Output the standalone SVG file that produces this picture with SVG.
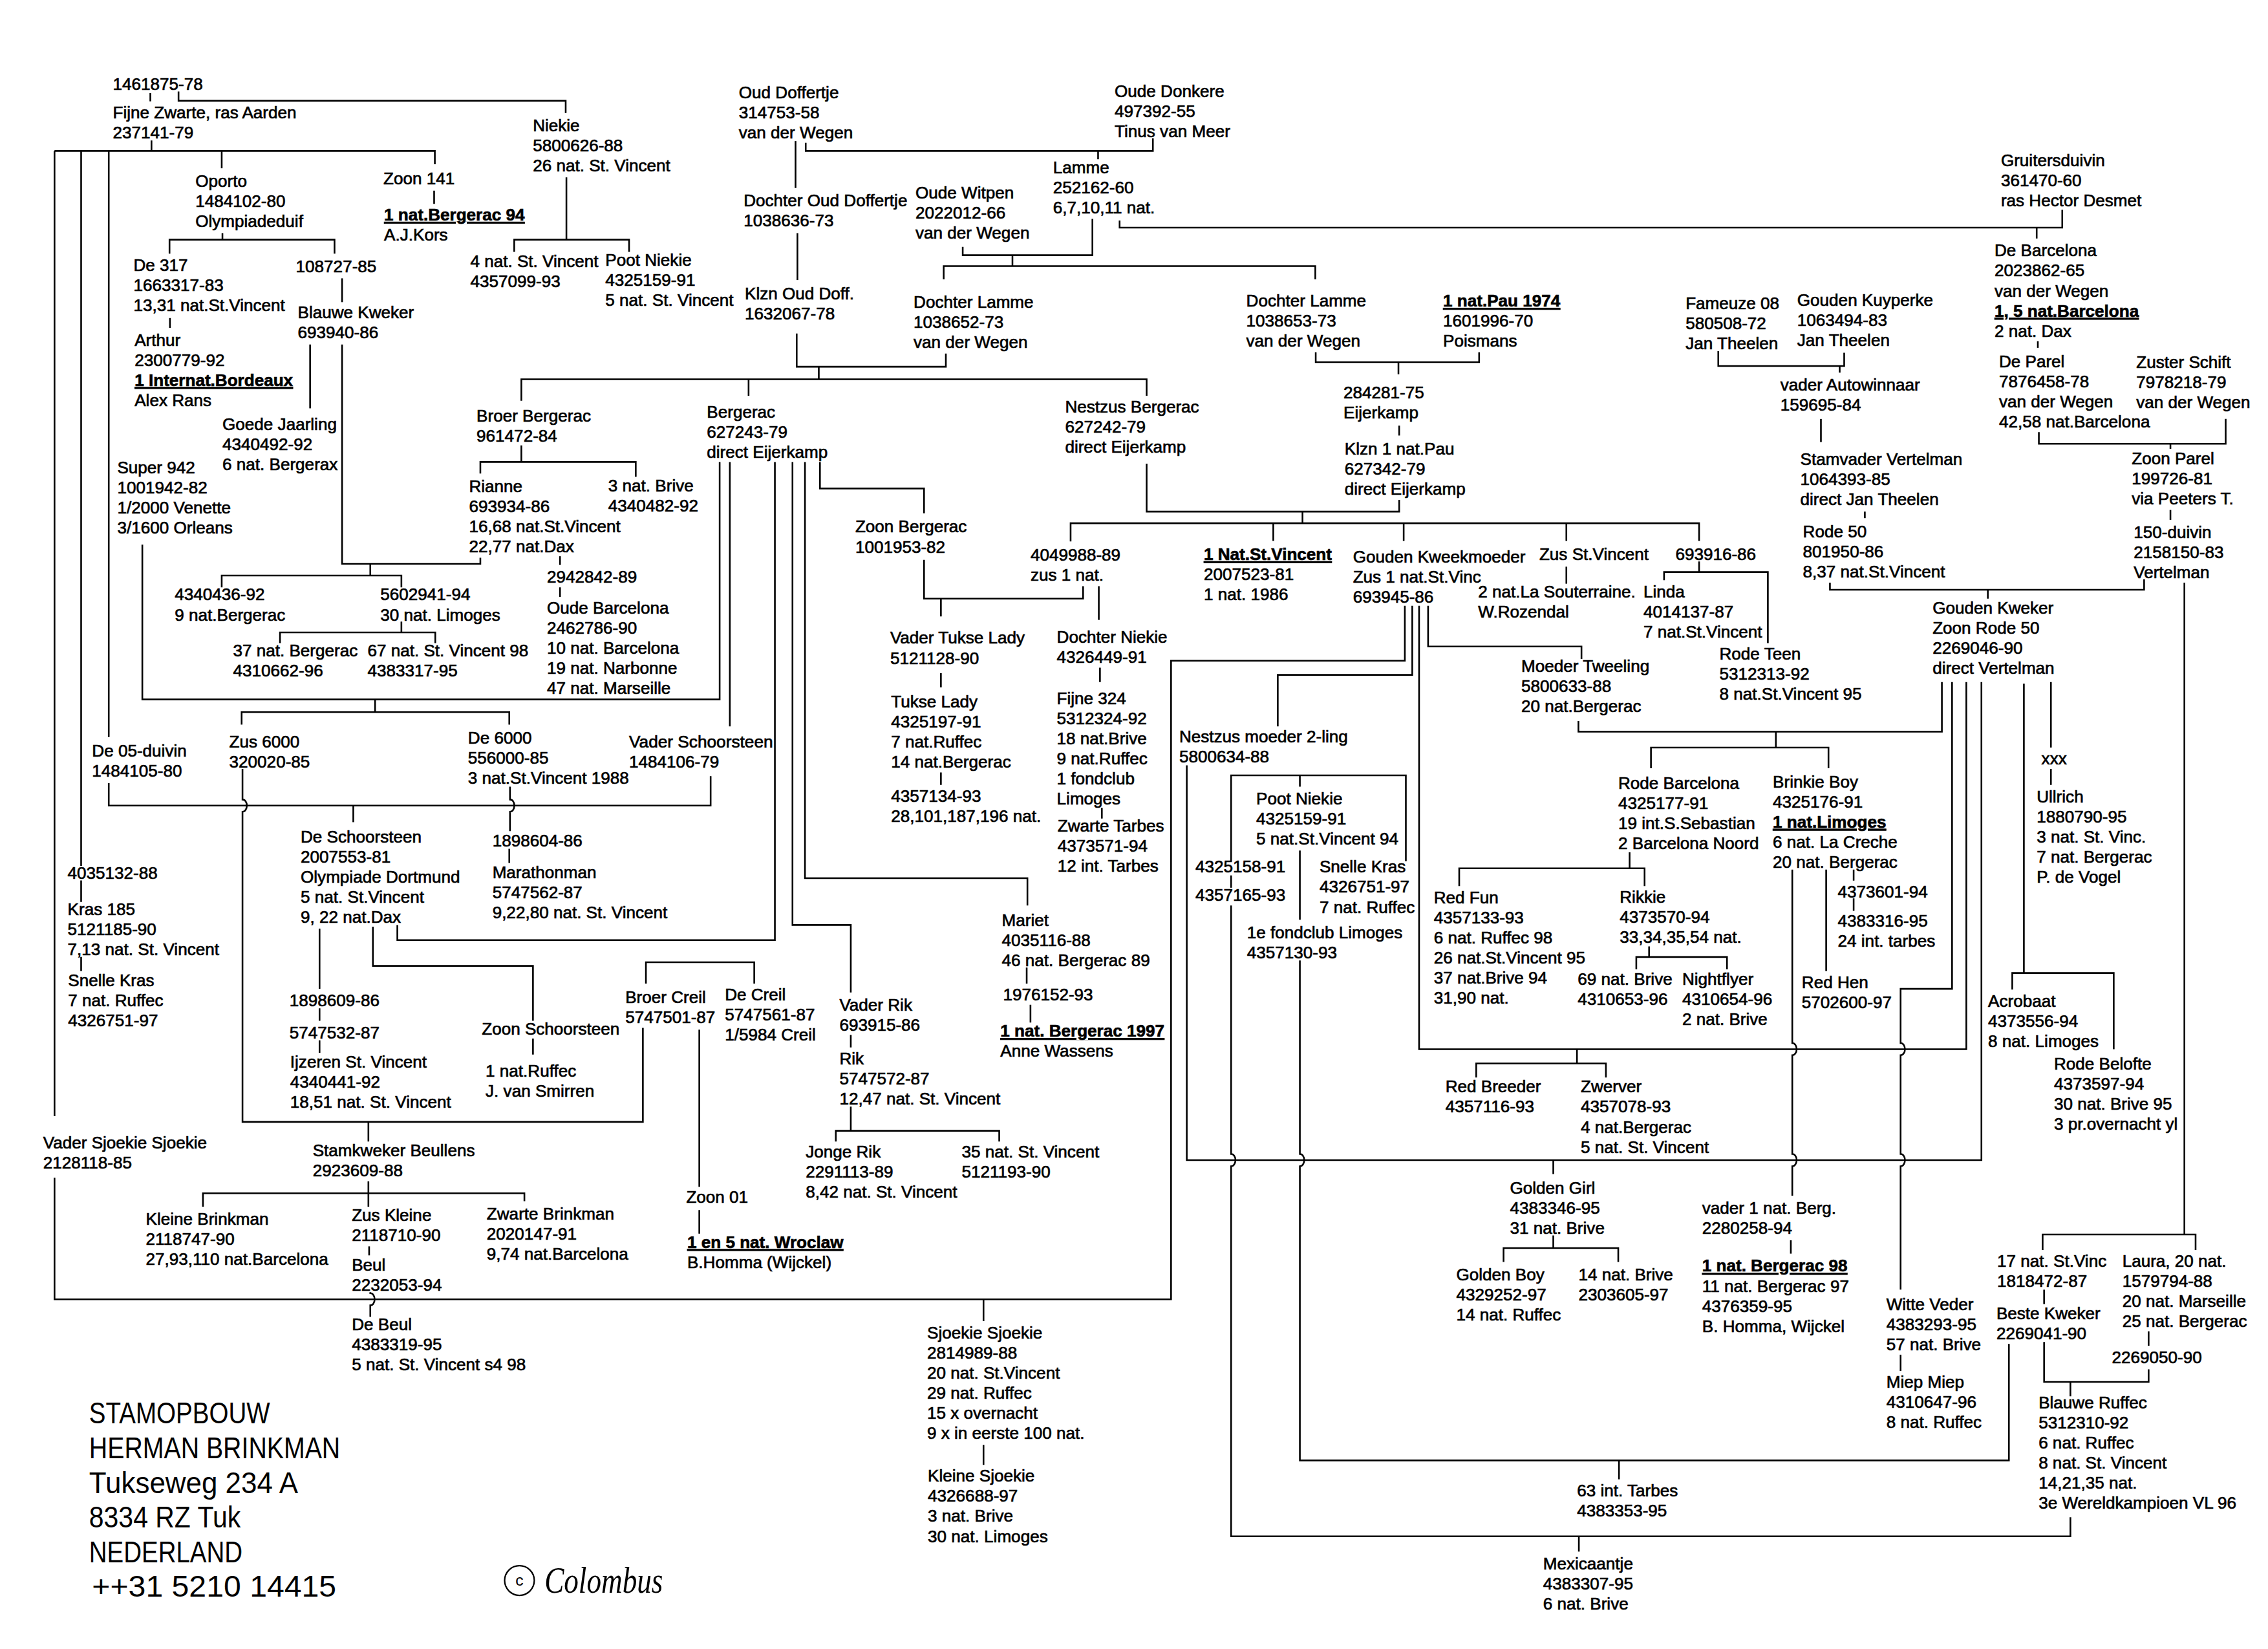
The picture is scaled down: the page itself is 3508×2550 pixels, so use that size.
<svg xmlns="http://www.w3.org/2000/svg" width="3508" height="2550" viewBox="0 0 3508 2550">
<style>
.t{font-family:"Liberation Sans",Arial,Helvetica,sans-serif;font-size:11.6px;fill:#000;stroke:#000;stroke-width:0.3px}
.b{font-weight:bold;text-decoration:underline}
.c path{fill:none;stroke:#000;stroke-width:1.15}
.ti{font-family:"Liberation Sans",Arial,sans-serif;font-size:20.5px;fill:#000}
.co{font-family:"Liberation Serif","Times New Roman",serif;font-style:italic;font-size:25px;fill:#000}
</style>
<rect width="3508" height="2550" fill="#fff"/>
<g transform="scale(2.2487)">
<g id="connectors" class="c">
<path d="M103.4,64 V69.7"/>
<path d="M122.8,62.9 V69.3 H389.1 V77.7"/>
<path d="M104.2,96.6 V103.8"/>
<path d="M37.5,103.8 H299.1 V112.9"/>
<path d="M152.5,103.8 V115.7"/>
<path d="M37.5,103.8 V767.6"/>
<path d="M55.8,103.8 V595.5"/>
<path d="M74.8,103.8 V506.8"/>
<path d="M153,160.3 V164.8 M116.6,174.4 V164.8 H230.1 V174.4"/>
<path d="M298.6,131.1 V140.2"/>
<path d="M389.6,122 V164.8 M353.7,173.2 V164.8 H432.7 V173.2"/>
<path d="M116.9,218.7 V225.5"/>
<path d="M235.3,191.4 V207.8"/>
<path d="M213.3,236.9 V280.8"/>
<path d="M235.3,236.9 V387.8 H330.4 V383.6"/>
<path d="M254.7,387.8 V395.8 M152.5,403.9 V395.8 H276.1 V403.9"/>
<path d="M385.2,382.5 V388.5"/>
<path d="M385.2,403.9 V410.5"/>
<path d="M276.1,427.5 V434.9 M192.6,442.2 V434.9 H299.4 V442.2"/>
<path d="M97.9,374.5 V481 H495 V317.7"/>
<path d="M258,481 V489.7 M166.2,498.3 V489.7 H350.3 V498.3"/>
<path d="M502,317.7 V499.5"/>
<path d="M547.2,97 V129.3"/>
<path d="M554.2,98.2 V103.8 H793 V95.2"/>
<path d="M755.3,103.8 V109.5"/>
<path d="M548.5,160.3 V192.6"/>
<path d="M662.2,169.8 V175.5 H751.4 V150.5"/>
<path d="M696.4,175.5 V183 M649.1,192.1 V183 H904.7 V192.1"/>
<path d="M770.1,151.6 V156.5 H1418.5 V144.3"/>
<path d="M1400.9,156.5 V164"/>
<path d="M548,229.4 V252.2 H650.6 V243.1"/>
<path d="M563.2,252.2 V260.8 M358.6,275.6 V260.8 H788.7 V272.2 M514.9,260.8 V272.2"/>
<path d="M358.6,306.3 V317.7 M330.4,325.6 V317.7 H437.3 V327.9"/>
<path d="M564,317.7 V335.9 H635.6 V353"/>
<path d="M533,317.7 V646.5 H273.3 V636.1"/>
<path d="M545.1,317.7 V636.1 H585.2 V682.5"/>
<path d="M553.7,317.7 V603.9 H706.7 V622.7"/>
<path d="M905,242.2 V249 H1017.4 V242.2 M961.9,249 V257.4"/>
<path d="M962.4,292.7 V299.5"/>
<path d="M788.7,318.8 V351.8 H962.4 V343.8"/>
<path d="M895.9,351.8 V359.8 M736.4,372.3 V359.8 H1168.7 V372 M875.8,359.8 V372 M965.5,359.8 V372 M1077.4,359.8 V372"/>
<path d="M1181.9,241.5 V251.7 H1268.5 V242.6 M1265.4,251.7 V256.3"/>
<path d="M1252.5,288.1 V304"/>
<path d="M1282.7,351.8 V356.3"/>
<path d="M1401.7,234.6 V239.2"/>
<path d="M1402.4,297.2 V305.2 H1530.9 V288.1 M1492.9,305.2 V308.6"/>
<path d="M1492.9,350.7 V357.5"/>
<path d="M635.6,385 V411.7 H745 V403.1 M647.2,411.7 V423.9"/>
<path d="M755.8,403.1 V426.3"/>
<path d="M647.2,462.9 V472.7 M647.2,531.2 V539.8"/>
<path d="M756.6,459.2 V469 M757.9,555.5 V562.9"/>
<path d="M74.8,538.5 V554 H488.8 V533.7"/>
<path d="M243,554 V565.4"/>
<path d="M166.8,528.8 V549.8 a3 4.2 0 0 1 0 8.4 V771.5 H442.2 V706.9"/>
<path d="M253.4,771.5 V785"/>
<path d="M350.8,541 V549.8 a3 4.2 0 0 1 0 8.4 V571.5"/>
<path d="M350.3,583.7 V593.4"/>
<path d="M55.8,605.5 V620.3 M55.8,658.1 V667.8"/>
<path d="M219.8,638.6 V680 M219.8,693.4 V702 M219.8,715.4 V724"/>
<path d="M256.5,637.3 V664.2 H366.6 V702 M366.6,714.2 V725.2"/>
<path d="M444.3,676.4 V661.7 H518.8 V676.4"/>
<path d="M481,708.1 V816.1 M481,832.2 V848.4"/>
<path d="M585.2,711.7 V720.3"/>
<path d="M706.2,665.4 V676.4 M708.8,691 V703.2"/>
<path d="M585.2,761 V777.6 M574.9,785 V777.6 H687.3 V785"/>
<path d="M37.5,809.9 V893.5 H805.5 V454.4 H966.3 V416.6"/>
<path d="M676.5,893.5 V908.5 M676.5,993.7 V1007.4"/>
<path d="M253.4,812.4 V829.8 M139.6,829.8 V820.6 H360.7 V826"/>
<path d="M253.9,857.1 V863.3"/>
<path d="M254.7,888.6 V889.3 a3 4.2 0 0 1 0 8.4 V905.5"/>
<path d="M971.4,416.6 V464.1 H878.9 V499.5"/>
<path d="M976.1,416.6 V721.5 H1352.5 V469"/>
<path d="M982.3,416.6 V444.6 H1087.8 V453.2"/>
<path d="M1085.7,495.8 V503.2 H1335.7 V469"/>
<path d="M1221.5,503.2 V514.1 M1135.6,528.3 V514.1 H1257.7 V528.3"/>
<path d="M1077.4,389.7 V401.4"/>
<path d="M1168.7,386.1 V393.4 M1144.6,399 V393.4 H1216 V442.2"/>
<path d="M1084.7,721.5 V731.3 M1015.4,741 V731.3 H1104.6 V741"/>
<path d="M816.3,526.3 V797.8 H1362.9 V469"/>
<path d="M1068.4,797.8 V807.4"/>
<path d="M1068.4,849.6 V858.3 M1034.2,867.8 V858.3 H1113.1 V867.8"/>
<path d="M846.8,592.2 V533.2 H967 V592.2 M894.1,533.2 V541"/>
<path d="M846.8,602 V610.5"/>
<path d="M846.8,622.7 V793.6 a3 4.2 0 0 1 0 8.4 V1056.5 H1424.1 V1043.4"/>
<path d="M1086,1056.5 V1067"/>
<path d="M894.1,584.9 V632.5"/>
<path d="M894.1,660.5 V793.6 a3 4.2 0 0 1 0 8.4 V1004.3 H1381.8 V924.2"/>
<path d="M1113.6,1004.3 V1017.3"/>
<path d="M1120.9,586.1 V597.1 M1003.7,609.3 V597.1 H1131.2 V609.3"/>
<path d="M1134.3,650.8 V658.1 M1125.5,666.6 V658.1 H1187.9 V666.6"/>
<path d="M1258.7,400.7 V405.6 H1474.8 V398.3 M1367.3,405.6 V411.7"/>
<path d="M1502.5,400.7 V848.9 M1405,859.6 V848.9 H1510.2 V859.6"/>
<path d="M1342.7,469 V680 H1307.3 V717.3 a3 4.2 0 0 1 0 8.4 V793.6 a3 4.2 0 0 1 0 8.4 V886.9"/>
<path d="M1307.3,931.6 V942.8"/>
<path d="M1232.8,598 V717.3 a3 4.2 0 0 1 0 8.4 V793.6 a3 4.2 0 0 1 0 8.4 V822.3"/>
<path d="M1231.8,852.9 V862.1"/>
<path d="M1256.1,598 V667.8"/>
<path d="M1275,598 V605.6 M1275,617.8 V626.4"/>
<path d="M1392.1,470.2 V669.1 M1384.1,680.5 V669.1 H1453.9 V721.5"/>
<path d="M1410.7,469 V514.1 M1410.7,528.8 V539.8"/>
<path d="M1406,886.9 V896.8"/>
<path d="M1406,922.9 V950.3 H1477.9 V941.6 M1477.9,915.5 V925.4 M1424.1,950.3 V960.2"/>
</g>

<g id="n-1461875"><text class="t" x="77.6" y="61.9">1461875-78</text></g>
<g id="n-fijne-zwarte"><text class="t" x="77.6" y="81.4">Fijne Zwarte, ras Aarden<tspan x="77.6" dy="13.8">237141-79</tspan></text></g>
<g id="n-niekie"><text class="t" x="366.5" y="90.3">Niekie<tspan x="366.5" dy="13.8">5800626-88</tspan><tspan x="366.5" dy="13.8">26 nat. St. Vincent</tspan></text></g>
<g id="n-oporto"><text class="t" x="134.4" y="128.5">Oporto<tspan x="134.4" dy="13.8">1484102-80</tspan><tspan x="134.4" dy="13.8">Olympiadeduif</tspan></text></g>
<g id="n-zoon141"><text class="t" x="263.7" y="126.7">Zoon 141</text></g>
<g id="n-bergerac94"><text class="t" x="264.2" y="151.7"><tspan class="b">1 nat.Bergerac 94</tspan><tspan x="264.2" dy="13.8">A.J.Kors</tspan></text></g>
<g id="n-de317"><text class="t" x="91.8" y="186.5">De 317<tspan x="91.8" dy="13.8">1663317-83</tspan><tspan x="91.8" dy="13.8">13,31 nat.St.Vincent</tspan></text></g>
<g id="n-108727"><text class="t" x="203.5" y="187.2">108727-85</text></g>
<g id="n-blauwe-kweker"><text class="t" x="204.8" y="218.8">Blauwe Kweker<tspan x="204.8" dy="13.8">693940-86</tspan></text></g>
<g id="n-arthur"><text class="t" x="92.6" y="237.7">Arthur<tspan x="92.6" dy="13.8">2300779-92</tspan><tspan x="92.6" dy="13.8" class="b">1 Internat.Bordeaux</tspan><tspan x="92.6" dy="13.8">Alex Rans</tspan></text></g>
<g id="n-goede-jaarling"><text class="t" x="153" y="295.7">Goede Jaarling<tspan x="153" dy="13.8">4340492-92</tspan><tspan x="153" dy="13.8">6 nat. Bergerax</tspan></text></g>
<g id="n-super942"><text class="t" x="80.7" y="325.3">Super 942<tspan x="80.7" dy="13.8">1001942-82</tspan><tspan x="80.7" dy="13.8">1/2000 Venette</tspan><tspan x="80.7" dy="13.8">3/1600 Orleans</tspan></text></g>
<g id="n-4natstv"><text class="t" x="323.5" y="183.6">4 nat. St. Vincent<tspan x="323.5" dy="13.8">4357099-93</tspan></text></g>
<g id="n-broer-bergerac"><text class="t" x="327.8" y="290">Broer Bergerac<tspan x="327.8" dy="13.8">961472-84</tspan></text></g>
<g id="n-rianne"><text class="t" x="322.6" y="338.3">Rianne<tspan x="322.6" dy="13.8">693934-86</tspan><tspan x="322.6" dy="13.8">16,68 nat.St.Vincent</tspan><tspan x="322.6" dy="13.8">22,77 nat.Dax</tspan></text></g>
<g id="n-oud-doffertje"><text class="t" x="508.2" y="67.6">Oud Doffertje<tspan x="508.2" dy="13.8">314753-58</tspan><tspan x="508.2" dy="13.8">van der Wegen</tspan></text></g>
<g id="n-oude-donkere"><text class="t" x="766.7" y="66.6">Oude Donkere<tspan x="766.7" dy="13.8">497392-55</tspan><tspan x="766.7" dy="13.8">Tinus van Meer</tspan></text></g>
<g id="n-dochter-oud-doffertje"><text class="t" x="511.5" y="141.7">Dochter Oud Doffertje<tspan x="511.5" dy="13.8">1038636-73</tspan></text></g>
<g id="n-oude-witpen"><text class="t" x="629.7" y="136.5">Oude Witpen<tspan x="629.7" dy="13.8">2022012-66</tspan><tspan x="629.7" dy="13.8">van der Wegen</tspan></text></g>
<g id="n-lamme"><text class="t" x="724.3" y="119">Lamme<tspan x="724.3" dy="13.8">252162-60</tspan><tspan x="724.3" dy="13.8">6,7,10,11 nat.</tspan></text></g>
<g id="n-poot-niekie-1"><text class="t" x="416.4" y="182.7">Poot Niekie<tspan x="416.4" dy="13.8">4325159-91</tspan><tspan x="416.4" dy="13.8">5 nat. St. Vincent</tspan></text></g>
<g id="n-klzn-oud-doff"><text class="t" x="512.3" y="205.9">Klzn Oud Doff.<tspan x="512.3" dy="13.8">1632067-78</tspan></text></g>
<g id="n-dochter-lamme-1"><text class="t" x="628.4" y="211.5">Dochter Lamme<tspan x="628.4" dy="13.8">1038652-73</tspan><tspan x="628.4" dy="13.8">van der Wegen</tspan></text></g>
<g id="n-bergerac"><text class="t" x="486.2" y="287.3">Bergerac<tspan x="486.2" dy="13.8">627243-79</tspan><tspan x="486.2" dy="13.8">direct Eijerkamp</tspan></text></g>
<g id="n-nestzus-bergerac"><text class="t" x="732.6" y="283.9">Nestzus Bergerac<tspan x="732.6" dy="13.8">627242-79</tspan><tspan x="732.6" dy="13.8">direct Eijerkamp</tspan></text></g>
<g id="n-3natbrive"><text class="t" x="418.4" y="337.8">3 nat. Brive<tspan x="418.4" dy="13.8">4340482-92</tspan></text></g>
<g id="n-zoon-bergerac"><text class="t" x="588.3" y="366.2">Zoon Bergerac<tspan x="588.3" dy="13.8">1001953-82</tspan></text></g>
<g id="n-4049988"><text class="t" x="708.8" y="385.6">4049988-89<tspan x="708.8" dy="13.8">zus 1 nat.</tspan></text></g>
<g id="n-dochter-lamme-2"><text class="t" x="857.2" y="210.9">Dochter Lamme<tspan x="857.2" dy="13.8">1038653-73</tspan><tspan x="857.2" dy="13.8">van der Wegen</tspan></text></g>
<g id="n-pau1974"><text class="t" x="992.6" y="210.9"><tspan class="b">1 nat.Pau 1974</tspan><tspan x="992.6" dy="13.8">1601996-70</tspan><tspan x="992.6" dy="13.8">Poismans</tspan></text></g>
<g id="n-284281"><text class="t" x="924.1" y="274.1">284281-75<tspan x="924.1" dy="13.8">Eijerkamp</tspan></text></g>
<g id="n-klzn-pau"><text class="t" x="924.9" y="312.8">Klzn 1 nat.Pau<tspan x="924.9" dy="13.8">627342-79</tspan><tspan x="924.9" dy="13.8">direct Eijerkamp</tspan></text></g>
<g id="n-1natstvincent"><text class="t" x="828" y="385.1"><tspan class="b">1 Nat.St.Vincent</tspan><tspan x="828" dy="13.8">2007523-81</tspan><tspan x="828" dy="13.8">1 nat. 1986</tspan></text></g>
<g id="n-gouden-kweekmoeder"><text class="t" x="930.6" y="386.7">Gouden Kweekmoeder<tspan x="930.6" dy="13.8">Zus 1 nat.St.Vinc</tspan><tspan x="930.6" dy="13.8">693945-86</tspan></text></g>
<g id="n-zus-stvincent"><text class="t" x="1058.8" y="385.1">Zus St.Vincent</text></g>
<g id="n-693916"><text class="t" x="1152.4" y="385.1">693916-86</text></g>
<g id="n-fameuze"><text class="t" x="1159.4" y="212.7">Fameuze 08<tspan x="1159.4" dy="13.8">580508-72</tspan><tspan x="1159.4" dy="13.8">Jan Theelen</tspan></text></g>
<g id="n-gruitersduivin"><text class="t" x="1376.3" y="114.4">Gruitersduivin<tspan x="1376.3" dy="13.8">361470-60</tspan><tspan x="1376.3" dy="13.8">ras Hector Desmet</tspan></text></g>
<g id="n-de-barcelona"><text class="t" x="1371.9" y="176.3">De Barcelona<tspan x="1371.9" dy="13.8">2023862-65</tspan><tspan x="1371.9" dy="13.8">van der Wegen</tspan><tspan x="1371.9" dy="13.8" class="b">1, 5 nat.Barcelona</tspan><tspan x="1371.9" dy="13.8">2 nat. Dax</tspan></text></g>
<g id="n-gouden-kuyperke"><text class="t" x="1236.2" y="210.4">Gouden Kuyperke<tspan x="1236.2" dy="13.8">1063494-83</tspan><tspan x="1236.2" dy="13.8">Jan Theelen</tspan></text></g>
<g id="n-vader-autowinnaar"><text class="t" x="1224.6" y="268.4">vader Autowinnaar<tspan x="1224.6" dy="13.8">159695-84</tspan></text></g>
<g id="n-stamvader-vertelman"><text class="t" x="1238.3" y="319.6">Stamvader Vertelman<tspan x="1238.3" dy="13.8">1064393-85</tspan><tspan x="1238.3" dy="13.8">direct Jan Theelen</tspan></text></g>
<g id="n-rode50"><text class="t" x="1240.1" y="369.6">Rode 50<tspan x="1240.1" dy="13.8">801950-86</tspan><tspan x="1240.1" dy="13.8">8,37 nat.St.Vincent</tspan></text></g>
<g id="n-de-parel"><text class="t" x="1375" y="252.5">De Parel<tspan x="1375" dy="13.8">7876458-78</tspan><tspan x="1375" dy="13.8">van der Wegen</tspan><tspan x="1375" dy="13.8">42,58 nat.Barcelona</tspan></text></g>
<g id="n-zuster-schift"><text class="t" x="1469.4" y="253.2">Zuster Schift<tspan x="1469.4" dy="13.8">7978218-79</tspan><tspan x="1469.4" dy="13.8">van der Wegen</tspan></text></g>
<g id="n-zoon-parel"><text class="t" x="1466.3" y="319.2">Zoon Parel<tspan x="1466.3" dy="13.8">199726-81</tspan><tspan x="1466.3" dy="13.8">via Peeters T.</tspan></text></g>
<g id="n-150-duivin"><text class="t" x="1467.6" y="370.1">150-duivin<tspan x="1467.6" dy="13.8">2158150-83</tspan><tspan x="1467.6" dy="13.8">Vertelman</tspan></text></g>
<g id="n-4340436"><text class="t" x="120.2" y="412.9">4340436-92<tspan x="120.2" dy="13.8">9 nat.Bergerac</tspan></text></g>
<g id="n-5602941"><text class="t" x="261.6" y="412.9">5602941-94<tspan x="261.6" dy="13.8">30 nat. Limoges</tspan></text></g>
<g id="n-37natbergerac"><text class="t" x="160.3" y="451.3">37 nat. Bergerac<tspan x="160.3" dy="13.8">4310662-96</tspan></text></g>
<g id="n-67natstv"><text class="t" x="252.8" y="451.3">67 nat. St. Vincent 98<tspan x="252.8" dy="13.8">4383317-95</tspan></text></g>
<g id="n-2942842"><text class="t" x="376.2" y="400.5">2942842-89</text></g>
<g id="n-oude-barcelona"><text class="t" x="376.2" y="422">Oude Barcelona<tspan x="376.2" dy="13.8">2462786-90</tspan><tspan x="376.2" dy="13.8">10 nat. Barcelona</tspan><tspan x="376.2" dy="13.8">19 nat. Narbonne</tspan><tspan x="376.2" dy="13.8">47 nat. Marseille</tspan></text></g>
<g id="n-de05duivin"><text class="t" x="63.3" y="520.3">De 05-duivin<tspan x="63.3" dy="13.8">1484105-80</tspan></text></g>
<g id="n-zus6000"><text class="t" x="157.7" y="513.9">Zus 6000<tspan x="157.7" dy="13.8">320020-85</tspan></text></g>
<g id="n-de6000"><text class="t" x="321.9" y="511.5">De 6000<tspan x="321.9" dy="13.8">556000-85</tspan><tspan x="321.9" dy="13.8">3 nat.St.Vincent 1988</tspan></text></g>
<g id="n-de-schoorsteen"><text class="t" x="206.8" y="579.3">De Schoorsteen<tspan x="206.8" dy="13.8">2007553-81</tspan><tspan x="206.8" dy="13.8">Olympiade Dortmund</tspan><tspan x="206.8" dy="13.8">5 nat. St.Vincent</tspan><tspan x="206.8" dy="13.8">9, 22 nat.Dax</tspan></text></g>
<g id="n-1898604"><text class="t" x="338.7" y="582.2">1898604-86</text></g>
<g id="n-marathonman"><text class="t" x="338.7" y="603.7">Marathonman<tspan x="338.7" dy="13.8">5747562-87</tspan><tspan x="338.7" dy="13.8">9,22,80 nat. St. Vincent</tspan></text></g>
<g id="n-4035132"><text class="t" x="46.5" y="604.5">4035132-88</text></g>
<g id="n-kras185"><text class="t" x="46.5" y="629.3">Kras 185<tspan x="46.5" dy="13.8">5121185-90</tspan><tspan x="46.5" dy="13.8">7,13 nat. St. Vincent</tspan></text></g>
<g id="n-snelle-kras-1"><text class="t" x="46.8" y="678.1">Snelle Kras<tspan x="46.8" dy="13.8">7 nat. Ruffec</tspan><tspan x="46.8" dy="13.8">4326751-97</tspan></text></g>
<g id="n-1898609"><text class="t" x="199.1" y="692">1898609-86</text></g>
<g id="n-5747532"><text class="t" x="199.1" y="714">5747532-87</text></g>
<g id="n-ijzeren"><text class="t" x="199.6" y="734.2">Ijzeren St. Vincent<tspan x="199.6" dy="13.8">4340441-92</tspan><tspan x="199.6" dy="13.8">18,51 nat. St. Vincent</tspan></text></g>
<g id="n-zoon-schoorsteen"><text class="t" x="331.4" y="711.6">Zoon Schoorsteen</text></g>
<g id="n-1natruffec"><text class="t" x="334" y="740.3">1 nat.Ruffec<tspan x="334" dy="13.8">J. van Smirren</tspan></text></g>
<g id="n-vader-tukse-lady"><text class="t" x="612.3" y="442.7">Vader Tukse Lady<tspan x="612.3" dy="13.8">5121128-90</tspan></text></g>
<g id="n-dochter-niekie"><text class="t" x="726.9" y="442.2">Dochter Niekie<tspan x="726.9" dy="13.8">4326449-91</tspan></text></g>
<g id="n-tukse-lady"><text class="t" x="612.9" y="486.6">Tukse Lady<tspan x="612.9" dy="13.8">4325197-91</tspan><tspan x="612.9" dy="13.8">7 nat.Ruffec</tspan><tspan x="612.9" dy="13.8">14 nat.Bergerac</tspan></text></g>
<g id="n-4357134"><text class="t" x="612.9" y="551.3">4357134-93<tspan x="612.9" dy="13.8">28,101,187,196 nat.</tspan></text></g>
<g id="n-fijne324"><text class="t" x="726.9" y="484.2">Fijne 324<tspan x="726.9" dy="13.8">5312324-92</tspan><tspan x="726.9" dy="13.8">18 nat.Brive</tspan><tspan x="726.9" dy="13.8">9 nat.Ruffec</tspan><tspan x="726.9" dy="13.8">1 fondclub</tspan><tspan x="726.9" dy="13.8">Limoges</tspan></text></g>
<g id="n-zwarte-tarbes"><text class="t" x="727.4" y="572">Zwarte Tarbes<tspan x="727.4" dy="13.8">4373571-94</tspan><tspan x="727.4" dy="13.8">12 int. Tarbes</tspan></text></g>
<g id="n-vader-schoorsteen"><text class="t" x="432.7" y="513.9"><tspan textLength="99" lengthAdjust="spacingAndGlyphs">Vader Schoorsteen</tspan><tspan x="432.7" dy="13.8">1484106-79</tspan></text></g>
<g id="n-broer-creil"><text class="t" x="430.1" y="689.9">Broer Creil<tspan x="430.1" dy="13.8">5747501-87</tspan></text></g>
<g id="n-de-creil"><text class="t" x="498.6" y="687.9">De Creil<tspan x="498.6" dy="13.8">5747561-87</tspan><tspan x="498.6" dy="13.8">1/5984 Creil</tspan></text></g>
<g id="n-vader-rik"><text class="t" x="577.4" y="695.2">Vader Rik<tspan x="577.4" dy="13.8">693915-86</tspan></text></g>
<g id="n-rik"><text class="t" x="577.4" y="731.8">Rik<tspan x="577.4" dy="13.8">5747572-87</tspan><tspan x="577.4" dy="13.8">12,47 nat. St. Vincent</tspan></text></g>
<g id="n-mariet"><text class="t" x="689.1" y="636.7">Mariet<tspan x="689.1" dy="13.8">4035116-88</tspan><tspan x="689.1" dy="13.8">46 nat. Bergerac 89</tspan></text></g>
<g id="n-1976152"><text class="t" x="689.9" y="687.9">1976152-93</text></g>
<g id="n-bergerac1997"><text class="t" x="688.1" y="713"><tspan class="b">1 nat. Bergerac 1997</tspan><tspan x="688.1" dy="13.8">Anne Wassens</tspan></text></g>
<g id="n-la-souterraine"><text class="t" x="1016.7" y="411">2 nat.La Souterraine.<tspan x="1016.7" dy="13.8">W.Rozendal</tspan></text></g>
<g id="n-linda"><text class="t" x="1130.4" y="411">Linda<tspan x="1130.4" dy="13.8">4014137-87</tspan><tspan x="1130.4" dy="13.8">7 nat.St.Vincent</tspan></text></g>
<g id="n-moeder-tweeling"><text class="t" x="1046.4" y="462.2">Moeder Tweeling<tspan x="1046.4" dy="13.8">5800633-88</tspan><tspan x="1046.4" dy="13.8">20 nat.Bergerac</tspan></text></g>
<g id="n-nestzus-moeder"><text class="t" x="811.1" y="510.5">Nestzus moeder 2-ling<tspan x="811.1" dy="13.8">5800634-88</tspan></text></g>
<g id="n-poot-niekie-2"><text class="t" x="864.1" y="553.2">Poot Niekie<tspan x="864.1" dy="13.8">4325159-91</tspan><tspan x="864.1" dy="13.8">5 nat.St.Vincent 94</tspan></text></g>
<g id="n-4325158"><text class="t" x="822.3" y="600.1">4325158-91</text></g>
<g id="n-4357165"><text class="t" x="822.3" y="619.6">4357165-93</text></g>
<g id="n-snelle-kras-2"><text class="t" x="907.6" y="600.1">Snelle Kras<tspan x="907.6" dy="13.8">4326751-97</tspan><tspan x="907.6" dy="13.8">7 nat. Ruffec</tspan></text></g>
<g id="n-1e-fondclub"><text class="t" x="857.7" y="645.2">1e fondclub Limoges<tspan x="857.7" dy="13.8">4357130-93</tspan></text></g>
<g id="n-rode-barcelona"><text class="t" x="1113.1" y="542.7">Rode Barcelona<tspan x="1113.1" dy="13.8">4325177-91</tspan><tspan x="1113.1" dy="13.8">19 int.S.Sebastian</tspan><tspan x="1113.1" dy="13.8">2 Barcelona Noord</tspan></text></g>
<g id="n-red-fun"><text class="t" x="986.2" y="621.3">Red Fun<tspan x="986.2" dy="13.8">4357133-93</tspan><tspan x="986.2" dy="13.8">6 nat. Ruffec 98</tspan><tspan x="986.2" dy="13.8">26 nat.St.Vincent 95</tspan><tspan x="986.2" dy="13.8">37 nat.Brive 94</tspan><tspan x="986.2" dy="13.8">31,90 nat.</tspan></text></g>
<g id="n-rikkie"><text class="t" x="1114.1" y="620.8">Rikkie<tspan x="1114.1" dy="13.8">4373570-94</tspan><tspan x="1114.1" dy="13.8">33,34,35,54 nat.</tspan></text></g>
<g id="n-69natbrive"><text class="t" x="1085.2" y="677.4">69 nat. Brive<tspan x="1085.2" dy="13.8">4310653-96</tspan></text></g>
<g id="n-nightflyer"><text class="t" x="1157.1" y="677.4">Nightflyer<tspan x="1157.1" dy="13.8">4310654-96</tspan><tspan x="1157.1" dy="13.8">2 nat. Brive</tspan></text></g>
<g id="n-red-breeder"><text class="t" x="994.2" y="751.3">Red Breeder<tspan x="994.2" dy="13.8">4357116-93</tspan></text></g>
<g id="n-zwerver"><text class="t" x="1087.3" y="751.3">Zwerver<tspan x="1087.3" dy="13.8">4357078-93</tspan><tspan x="1087.3" dy="13.8">4 nat.Bergerac</tspan><tspan x="1087.3" dy="13.8">5 nat. St. Vincent</tspan></text></g>
<g id="n-rode-teen"><text class="t" x="1182.7" y="453.7">Rode Teen<tspan x="1182.7" dy="13.8">5312313-92</tspan><tspan x="1182.7" dy="13.8">8 nat.St.Vincent 95</tspan></text></g>
<g id="n-gouden-kweker"><text class="t" x="1329.3" y="422">Gouden Kweker<tspan x="1329.3" dy="13.8">Zoon Rode 50</tspan><tspan x="1329.3" dy="13.8">2269046-90</tspan><tspan x="1329.3" dy="13.8">direct Vertelman</tspan></text></g>
<g id="n-brinkie-boy"><text class="t" x="1219.4" y="541.5">Brinkie Boy<tspan x="1219.4" dy="13.8">4325176-91</tspan><tspan x="1219.4" dy="13.8" class="b">1 nat.Limoges</tspan><tspan x="1219.4" dy="13.8">6 nat. La Creche</tspan><tspan x="1219.4" dy="13.8">20 nat. Bergerac</tspan></text></g>
<g id="n-xxx"><text class="t" x="1404.2" y="525.7">xxx</text></g>
<g id="n-ullrich"><text class="t" x="1400.9" y="551.8">Ullrich<tspan x="1400.9" dy="13.8">1880790-95</tspan><tspan x="1400.9" dy="13.8">3 nat. St. Vinc.</tspan><tspan x="1400.9" dy="13.8">7 nat. Bergerac</tspan><tspan x="1400.9" dy="13.8">P. de Vogel</tspan></text></g>
<g id="n-4373601"><text class="t" x="1264.1" y="617.1">4373601-94</text></g>
<g id="n-4383316"><text class="t" x="1264.1" y="637.2">4383316-95<tspan x="1264.1" dy="13.8">24 int. tarbes</tspan></text></g>
<g id="n-red-hen"><text class="t" x="1239.3" y="679.4">Red Hen<tspan x="1239.3" dy="13.8">5702600-97</tspan></text></g>
<g id="n-acrobaat"><text class="t" x="1367.5" y="692.3">Acrobaat<tspan x="1367.5" dy="13.8">4373556-94</tspan><tspan x="1367.5" dy="13.8">8 nat. Limoges</tspan></text></g>
<g id="n-rode-belofte"><text class="t" x="1412.8" y="735.5">Rode Belofte<tspan x="1412.8" dy="13.8">4373597-94</tspan><tspan x="1412.8" dy="13.8">30 nat. Brive 95</tspan><tspan x="1412.8" dy="13.8">3 pr.overnacht yl</tspan></text></g>
<g id="n-vader-sjoekie"><text class="t" x="29.7" y="789.7">Vader Sjoekie Sjoekie<tspan x="29.7" dy="13.8">2128118-85</tspan></text></g>
<g id="n-stamkweker-beullens"><text class="t" x="215.1" y="795">Stamkweker Beullens<tspan x="215.1" dy="13.8">2923609-88</tspan></text></g>
<g id="n-kleine-brinkman"><text class="t" x="100.3" y="842.2">Kleine Brinkman<tspan x="100.3" dy="13.8">2118747-90</tspan><tspan x="100.3" dy="13.8">27,93,110 nat.Barcelona</tspan></text></g>
<g id="n-zus-kleine"><text class="t" x="242" y="839.7">Zus Kleine<tspan x="242" dy="13.8">2118710-90</tspan></text></g>
<g id="n-beul"><text class="t" x="242" y="873.7">Beul<tspan x="242" dy="13.8">2232053-94</tspan></text></g>
<g id="n-zwarte-brinkman"><text class="t" x="334.8" y="838.9">Zwarte Brinkman<tspan x="334.8" dy="13.8">2020147-91</tspan><tspan x="334.8" dy="13.8">9,74 nat.Barcelona</tspan></text></g>
<g id="n-de-beul"><text class="t" x="242" y="914.7">De Beul<tspan x="242" dy="13.8">4383319-95</tspan><tspan x="242" dy="13.8">5 nat. St. Vincent s4 98</tspan></text></g>
<g id="n-jonge-rik"><text class="t" x="554.2" y="796.2">Jonge Rik<tspan x="554.2" dy="13.8">2291113-89</tspan><tspan x="554.2" dy="13.8">8,42 nat. St. Vincent</tspan></text></g>
<g id="n-35natstv"><text class="t" x="661.5" y="796.2">35 nat. St. Vincent<tspan x="661.5" dy="13.8">5121193-90</tspan></text></g>
<g id="n-zoon01"><text class="t" x="472" y="827.3">Zoon 01</text></g>
<g id="n-wroclaw"><text class="t" x="472.7" y="858.1"><tspan class="b">1 en 5 nat. Wroclaw</tspan><tspan x="472.7" dy="13.8">B.Homma (Wijckel)</tspan></text></g>
<g id="n-sjoekie-sjoekie"><text class="t" x="637.7" y="920.4">Sjoekie Sjoekie<tspan x="637.7" dy="13.8">2814989-88</tspan><tspan x="637.7" dy="13.8">20 nat. St.Vincent</tspan><tspan x="637.7" dy="13.8">29 nat. Ruffec</tspan><tspan x="637.7" dy="13.8">15 x overnacht</tspan><tspan x="637.7" dy="13.8">9 x in eerste 100 nat.</tspan></text></g>
<g id="n-kleine-sjoekie"><text class="t" x="638.2" y="1019">Kleine Sjoekie<tspan x="638.2" dy="13.8">4326688-97</tspan><tspan x="638.2" dy="13.8">3 nat. Brive</tspan><tspan x="638.2" dy="13.8">30 nat. Limoges</tspan></text></g>
<g id="n-golden-girl"><text class="t" x="1038.6" y="820.8">Golden Girl<tspan x="1038.6" dy="13.8">4383346-95</tspan><tspan x="1038.6" dy="13.8">31 nat. Brive</tspan></text></g>
<g id="n-golden-boy"><text class="t" x="1001.7" y="880.4">Golden Boy<tspan x="1001.7" dy="13.8">4329252-97</tspan><tspan x="1001.7" dy="13.8">14 nat. Ruffec</tspan></text></g>
<g id="n-14natbrive"><text class="t" x="1085.7" y="880.4">14 nat. Brive<tspan x="1085.7" dy="13.8">2303605-97</tspan></text></g>
<g id="n-63inttarbes"><text class="t" x="1084.7" y="1029">63 int. Tarbes<tspan x="1084.7" dy="13.8">4383353-95</tspan></text></g>
<g id="n-mexicaantje"><text class="t" x="1061.4" y="1079.2">Mexicaantje<tspan x="1061.4" dy="13.8">4383307-95</tspan><tspan x="1061.4" dy="13.8">6 nat. Brive</tspan></text></g>
<g id="n-vader-1nat-berg"><text class="t" x="1170.8" y="834.7">vader 1 nat. Berg.<tspan x="1170.8" dy="13.8">2280258-94</tspan></text></g>
<g id="n-bergerac98"><text class="t" x="1170.8" y="874.5"><tspan class="b">1 nat. Bergerac 98</tspan><tspan x="1170.8" dy="13.8">11 nat. Bergerac 97</tspan><tspan x="1170.8" dy="13.8">4376359-95</tspan><tspan x="1170.8" dy="13.8">B. Homma, Wijckel</tspan></text></g>
<g id="n-witte-veder"><text class="t" x="1297.5" y="901">Witte Veder<tspan x="1297.5" dy="13.8">4383293-95</tspan><tspan x="1297.5" dy="13.8">57 nat. Brive</tspan></text></g>
<g id="n-miep-miep"><text class="t" x="1297.5" y="954.5">Miep Miep<tspan x="1297.5" dy="13.8">4310647-96</tspan><tspan x="1297.5" dy="13.8">8 nat. Ruffec</tspan></text></g>
<g id="n-17natstvinc"><text class="t" x="1373.7" y="871.2">17 nat. St.Vinc<tspan x="1373.7" dy="13.8">1818472-87</tspan></text></g>
<g id="n-laura"><text class="t" x="1459.8" y="871.2">Laura, 20 nat.<tspan x="1459.8" dy="13.8">1579794-88</tspan><tspan x="1459.8" dy="13.8">20 nat. Marseille</tspan><tspan x="1459.8" dy="13.8">25 nat. Bergerac</tspan></text></g>
<g id="n-beste-kweker"><text class="t" x="1373.2" y="907.3">Beste Kweker<tspan x="1373.2" dy="13.8">2269041-90</tspan></text></g>
<g id="n-2269050"><text class="t" x="1452.6" y="937.6">2269050-90</text></g>
<g id="n-blauwe-ruffec"><text class="t" x="1402.2" y="968.6">Blauwe Ruffec<tspan x="1402.2" dy="13.8">5312310-92</tspan><tspan x="1402.2" dy="13.8">6 nat. Ruffec</tspan><tspan x="1402.2" dy="13.8">8 nat. St. Vincent</tspan><tspan x="1402.2" dy="13.8">14,21,35 nat.</tspan><tspan x="1402.2" dy="13.8">3e Wereldkampioen VL 96</tspan></text></g>

<g id="title">
<text class="ti" x="61.3" y="979" textLength="124.4" lengthAdjust="spacingAndGlyphs">STAMOPBOUW</text>
<text class="ti" x="61.3" y="1002.8" textLength="172.7" lengthAdjust="spacingAndGlyphs">HERMAN BRINKMAN</text>
<text class="ti" x="61.3" y="1026.6" textLength="143.7" lengthAdjust="spacingAndGlyphs">Tukseweg 234 A</text>
<text class="ti" x="61.3" y="1050.4" textLength="104.2" lengthAdjust="spacingAndGlyphs">8334 RZ Tuk</text>
<text class="ti" x="61.3" y="1074.2" textLength="105.5" lengthAdjust="spacingAndGlyphs">NEDERLAND</text>
<text class="ti" x="63.3" y="1098" textLength="168" lengthAdjust="spacingAndGlyphs">++31 5210 14415</text>
</g>
<g id="copyright">
<circle cx="357.3" cy="1086.9" r="10.2" fill="none" stroke="#000" stroke-width="1"/>
<text x="357.3" y="1090.6" text-anchor="middle" style="font-family:'Liberation Sans',Arial,sans-serif;font-size:11px">c</text>
<text class="co" x="374.5" y="1095.5" textLength="81.5" lengthAdjust="spacingAndGlyphs">Colombus</text>
</g>
</g>
</svg>
